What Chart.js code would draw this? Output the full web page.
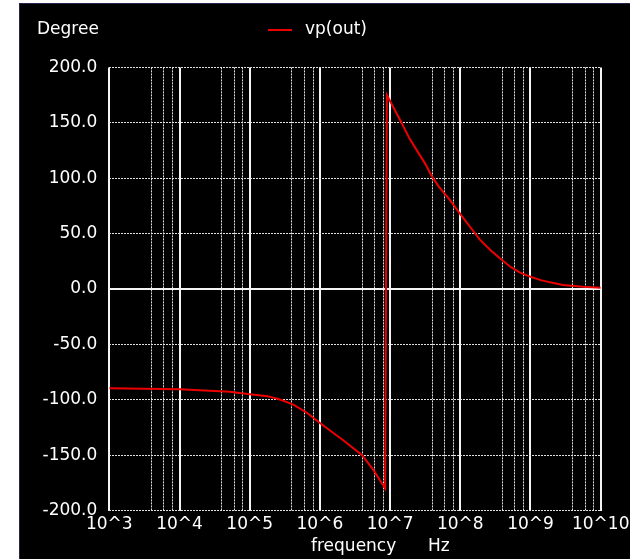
<!DOCTYPE html>
<html>
<head>
<meta charset="utf-8">
<script src="https://cdn.jsdelivr.net/npm/chart.js@4.4.1/dist/chart.umd.min.js"></script>
<style>
  html, body { margin: 0; padding: 0; background: #fff; }
  #frame {
    position: absolute; left: 19px; top: 3px; width: 611px; height: 556px;
    background: #000; box-sizing: border-box;
    border-left: 1px solid #24244c; border-top: 1px solid #24244c;
  }
  #wrap { position: absolute; left: 20px; top: 4px; width: 610px; height: 555px; }
</style>
</head>
<body>
<div id="frame"></div>
<div id="wrap"><canvas id="phaseChart"></canvas></div>
<script>
// values
const seriesLabel = 'vp(out)';
const freqHz = [
    1e3, 1e4, 5.2e4, 1e5, 1.8e5, 2.7e5, 4.2e5, 6.6e5, 1e6, 2.1e6, 4e6, 5.8e6, 8.5e6,
    9.0e6, 1.4e7, 1.9e7, 3.2e7, 3.9e7, 5e7, 7.1e7, 1e8, 1.4e8, 1.9e8, 2.7e8, 3.7e8, 5.1e8,
    7.1e8, 1e9, 1.4e9, 1.9e9, 2.9e9, 5.6e9, 1e10
];
const phaseDeg = [
    -89.5, -90.5, -92.8, -94.9, -96.7, -99.7, -104.3, -111.9, -121, -136, -150, -163.5, -180,
    175, 152, 135.5, 112.5, 102, 92, 80.5, 67.5, 55.5, 44.5, 35, 27.5, 20.3,
    14.8, 11, 8, 6, 3.6, 2, 1.2
];
const decadeTicks = [1e3, 1e4, 1e5, 1e6, 1e7, 1e8, 1e9, 1e10];
const minorTicks = [
    4e3, 6e3, 8e3, 4e4, 6e4, 8e4, 4e5, 6e5, 8e5, 4e6, 6e6, 8e6,
    4e7, 6e7, 8e7, 4e8, 6e8, 8e8, 4e9, 6e9, 8e9
];
const yMin = -200, yMax = 200, yStep = 50;
const yTitle = 'Degree';
const xTitle = 'frequency';
const xUnit = 'Hz';

const FONT = '"DejaVu Sans", "Liberation Sans", sans-serif';
const LINE_RED = '#ee0000';
const SOLID = '#f4f4f4';
const DOTTED = '#e2e2e2';

Chart.defaults.font.family = FONT;
Chart.defaults.font.size = 17;
Chart.defaults.color = '#fff';

// "Degree", legend entry and "frequency   Hz" are placed like the ngspice window
const textPlugin = {
    id: 'spiceText',
    afterDraw(chart) {
        const ctx = chart.ctx;
        ctx.save();
        ctx.font = '17px ' + FONT;
        ctx.fillStyle = '#fff';
        ctx.textBaseline = 'middle';
        ctx.textAlign = 'left';
        ctx.fillText(yTitle, 17, 26);

        ctx.strokeStyle = LINE_RED;
        ctx.lineWidth = 2;
        ctx.beginPath();
        ctx.moveTo(248, 26);
        ctx.lineTo(272, 26);
        ctx.stroke();
        ctx.fillText(chart.data.datasets[0].label, 285, 26);

        ctx.fillText(xTitle, 291, 543);
        ctx.fillText(xUnit, 408, 543);
        ctx.restore();
    }
};

const ctx = document.getElementById('phaseChart').getContext('2d');
new Chart(ctx, {
    type: 'line',
    data: {
        datasets: [{
            label: seriesLabel,
            data: freqHz.map((f, i) => ({ x: f, y: phaseDeg[i] })),
            borderColor: LINE_RED,
            backgroundColor: LINE_RED,
            borderWidth: 2,
            pointRadius: 0,
            tension: 0,
            xAxisID: 'x',
            yAxisID: 'y'
        }]
    },
    options: {
        responsive: true,
        maintainAspectRatio: false,
        animation: false,
        layout: { padding: { left: 0, right: 29.3, top: 63.4, bottom: 0 } },
        plugins: {
            legend: { display: false },
            tooltip: { enabled: false }
        },
        scales: {
            x: {
                type: 'logarithmic',
                position: 'bottom',
                min: 1e3,
                max: 1e10,
                afterBuildTicks: s => { s.ticks = decadeTicks.map(v => ({ value: v })); },
                afterFit: s => {
                    s.height = 48.4;
                    s.paddingLeft = 0;
                    s.paddingRight = 0;
                },
                ticks: {
                    autoSkip: false,
                    maxRotation: 0,
                    padding: 4,
                    color: '#fff',
                    callback: v => '10^' + Math.round(Math.log10(v))
                },
                grid: { color: SOLID, lineWidth: 2, drawTicks: false },
                border: { display: false }
            },
            xMinor: {
                type: 'logarithmic',
                position: 'bottom',
                min: 1e3,
                max: 1e10,
                afterBuildTicks: s => { s.ticks = minorTicks.map(v => ({ value: v })); },
                afterFit: s => { s.height = 0; },
                ticks: { display: false },
                grid: { color: DOTTED, lineWidth: 1, drawTicks: false },
                border: { display: false, dash: [2, 1] }
            },
            y: {
                type: 'linear',
                position: 'left',
                min: yMin,
                max: yMax,
                afterFit: s => { s.width = 89.3; },
                ticks: {
                    stepSize: yStep,
                    padding: 12,
                    color: '#fff',
                    callback: v => v.toFixed(1)
                },
                grid: {
                    color: c => (c.tick && c.tick.value === 0 ? 'rgba(0,0,0,0)' : DOTTED),
                    lineWidth: 1,
                    drawTicks: false
                },
                border: { display: false, dash: [2, 1] }
            },
            yZero: {
                type: 'linear',
                position: 'left',
                min: yMin,
                max: yMax,
                afterBuildTicks: s => { s.ticks = [{ value: 0 }]; },
                afterFit: s => { s.width = 0; },
                ticks: { display: false },
                grid: { color: SOLID, lineWidth: 2, drawTicks: false },
                border: { display: false }
            }
        }
    },
    plugins: [textPlugin]
});
</script>
</body>
</html>
